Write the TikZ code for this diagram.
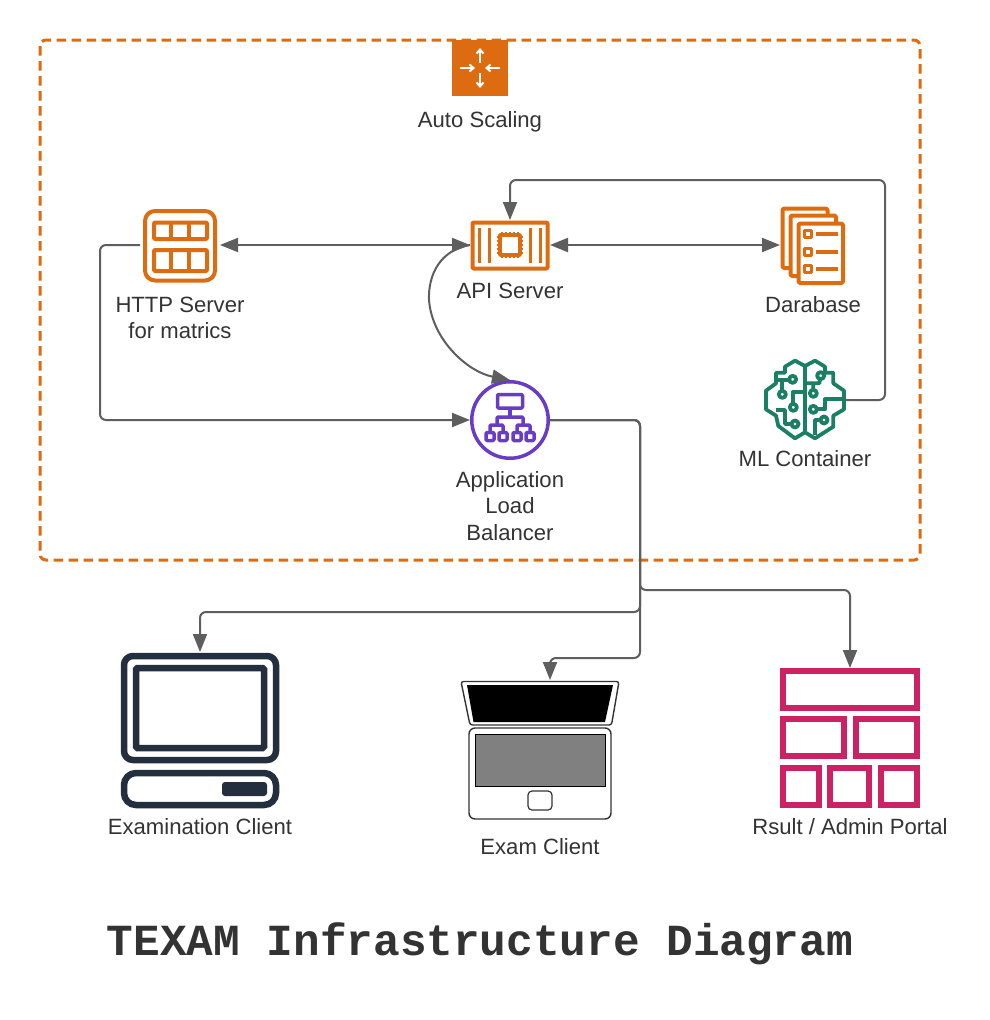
\documentclass[tikz,border=0pt]{standalone}
\usepackage{fontspec}
\setmainfont{Liberation Sans}
\newfontfamily\titlefont{Liberation Mono}
\usetikzlibrary{arrows.meta,positioning}
\definecolor{awsorange}{HTML}{DD6B10}
\definecolor{awspurple}{HTML}{693CC5}
\definecolor{awsgreen}{HTML}{1A7F64}
\definecolor{awsnavy}{HTML}{232F3E}
\definecolor{awspink}{HTML}{CC2264}
\definecolor{linkgray}{HTML}{5E5E5E}
\definecolor{textgray}{HTML}{333333}
\tikzset{
	iconbox/.style={inner sep=0,outer sep=0},
	label/.style={align=center,text=textgray,font=\fontsize{22.1}{26.5}\selectfont,inner sep=0},
	link/.style={draw=linkgray,line width=2,rounded corners=6,-{Triangle[length=18pt,width=14pt]}},
	dualink/.style={draw=linkgray,line width=2,{Triangle[length=18pt,width=14pt]}-{Triangle[length=18pt,width=14pt]}},
	orangeline/.style={draw=awsorange,line width=4,line join=round},
	greenline/.style={draw=awsgreen,line width=3.8,line join=round},
	navyline/.style={draw=awsnavy,line width=6.5},
	pinkbox/.style={draw=awspink,line width=6},
	purpleline/.style={draw=awspurple,line width=3.5,line join=round},
}
\begin{document}
\begin{tikzpicture}[x=1pt,y=-1pt]
	\useasboundingbox (0,0) rectangle (990,1020);
	\fill[white] (0,0) rectangle (990,1020);
	\draw[draw=awsorange,line width=3,rounded corners=6,dash pattern=on 9.5pt off 5.5pt] (40,40) rectangle (920,560);
	%%%%% auto scaling
	\node[iconbox,fill=awsorange,minimum size=56] (scaling) at (480,68) {};
	\draw[white,line width=2,-{Straight Barb[length=4pt,width=7pt]}] (480,63) -- (480,48);
	\draw[white,line width=2,-{Straight Barb[length=4pt,width=7pt]}] (480,73) -- (480,88);
	\draw[white,line width=2,-{Straight Barb[length=4pt,width=7pt]}] (460,68) -- (475,68);
	\draw[white,line width=2,-{Straight Barb[length=4pt,width=7pt]}] (500,68) -- (485,68);
	\node[label] (scalinglabel) at (480,122) {Auto Scaling};
	%%%%% http server
	\node[iconbox,minimum width=80,minimum height=80] (http) at (180,245) {};
	\draw[orangeline,rounded corners=10] (145,211) rectangle (215,280.5);
	\draw[orangeline,rounded corners=1] (154,222.5) rectangle (207,239);
	\draw[orangeline,rounded corners=1] (154,250) rectangle (207,271);
	\draw[orangeline] (171,222) -- (171,239) (189,222) -- (189,239);
	\draw[orangeline] (171,250) -- (171,271) (189,250) -- (189,271);
	\node[label] (httplabel) at (180,318) {HTTP Server\\for matrics};
	%%%%% api server
	\node[iconbox,minimum width=80,minimum height=50] (api) at (510,245) {};
	\draw[orangeline,rounded corners=1] (472.5,222.5) rectangle (547.5,268.5);
	\foreach \x in {479.5,489.5,530.5,540.5}
		\draw[orangeline,line width=3.2] (\x,228) -- (\x,263);
	\draw[orangeline,line width=3.5] (500,235) rectangle (520,255);
	\foreach \p in {-8,-4,0,4,8} {
		\draw[orangeline,line width=2.2] (510+\p,232) -- (510+\p,235);
		\draw[orangeline,line width=2.2] (510+\p,255) -- (510+\p,258);
		\draw[orangeline,line width=2.2] (497,245+\p) -- (500,245+\p);
		\draw[orangeline,line width=2.2] (520,245+\p) -- (523,245+\p);
	}
	\node[label] (apilabel) at (510,291) {API Server};
	%%%%% database
	\node[iconbox,minimum width=65,minimum height=80] (db) at (812.5,245) {};
	\draw[orangeline,rounded corners=1.5] (782.5,208.5) rectangle (827.5,268);
	\draw[orangeline,fill=white,rounded corners=1.5] (790.5,215.5) rectangle (836,276);
	\draw[orangeline,fill=white,rounded corners=1.5] (798.5,223.5) rectangle (843,283);
	\foreach \y in {234,252,269} {
		\draw[orangeline,line width=3.5] (804.5,\y-3.5) rectangle (811.5,\y+3.5);
		\draw[orangeline,line width=3.5] (816,\y) -- (838,\y);
	}
	\node[label] (dblabel) at (813,305) {Darabase};
	%%%%% ml container
	\node[iconbox,minimum size=80] (ml) at (805,400) {};
	\begin{scope}[shift={(750,350)},x=.3333pt,y=-.3333pt]
		\draw[greenline] (165,48) -- (135,32) -- (105,50) -- (105,68) -- (78,68) -- (78,100) -- (48,122) -- (48,178) -- (78,197) -- (85,228) -- (135,265) -- (165,247) -- (195,265) -- (250,230) -- (250,197) -- (282,178) -- (282,122) -- (250,100) -- (250,68) -- (225,68) -- (225,50) -- (195,32) -- cycle;
		\draw[greenline] (165,48) -- (165,247);
		\draw[greenline] (78,90) -- (118,90) (97,90) -- (97,123);
		\draw[greenline] (165,125) -- (130,125) -- (130,162);
		\draw[greenline] (78,180) -- (105,180) -- (105,222) -- (125,222);
		\draw[greenline] (165,100) -- (208,100) -- (210,87) (190,100) -- (190,120);
		\draw[greenline] (200,178) -- (225,178) -- (225,148) -- (282,148);
		\draw[greenline] (212,210) -- (195,210) -- (195,255);
		\foreach \p/\q in {128/88,97/133,130/172,135/222,212/77,190/130,190/178,222/210}
			\draw[greenline] (\p,\q) circle[radius=3.5pt];
	\end{scope}
	\node[label] (mllabel) at (805,459) {ML Container};
	%%%%% load balancer
	\node[iconbox,circle,draw=awspurple,line width=3.5,outer sep=1.75,minimum size=76.5] (alb) at (510,420) {};
	\draw[purpleline,rounded corners=1] (497.5,394.5) rectangle (522.5,408);
	\draw[purpleline] (510,408) -- (510,417);
	\draw[purpleline,rounded corners=1] (497,425) -- (497,417) -- (523,417) -- (523,425);
	\draw[purpleline,rounded corners=1] (490,432) -- (490,425) -- (503,425) -- (503,432);
	\draw[purpleline,rounded corners=1] (517,432) -- (517,425) -- (530,425) -- (530,432);
	\foreach \x in {490,503,517,530}
		\draw[purpleline,fill=white,rounded corners=1] (\x-4,432.5) rectangle (\x+4,440.5);
	\node[label] (alblabel) at (510,506) {Application\\Load\\Balancer};
	%%%%% examination client
	\node[iconbox,minimum width=160,minimum height=156] (desktop) at (200,730) {};
	\draw[navyline,rounded corners=9] (124,656) rectangle (276,760);
	\draw[navyline,rounded corners=1.5] (136,668) rectangle (264,748);
	\draw[navyline,rounded corners=12] (124,773) rectangle (276,805);
	\fill[awsnavy,rounded corners=3] (222,782) rectangle (267,796);
	\node[label] (desktoplabel) at (200,827) {Examination Client};
	%%%%% exam client
	\node[iconbox,minimum width=160,minimum height=140] (laptop) at (540,750) {};
	\coordinate (laptopin) at (550,680);
	\draw[black!80,line width=1.4,rounded corners=2.5] (461,681.5) -- (619,681.5) -- (611.5,725) -- (470,725) -- cycle;
	\fill[black] (467,685) -- (613,685) -- (605,722) -- (473.5,722) -- cycle;
	\draw[black!80,line width=1.4,rounded corners=6] (469,728) rectangle (611,819);
	\draw[black,fill=black!50,line width=1] (475.5,734.5) rectangle (605.5,786.5);
	\draw[black!80,line width=1.2,rounded corners=4] (528,791) rectangle (552,810);
	\node[label] (laptoplabel) at (540,847) {Exam Client};
	%%%%% portal
	\node[iconbox,minimum size=140] (portal) at (850,738) {};
	\draw[pinkbox] (783,671) rectangle (917,708);
	\draw[pinkbox] (783,719) rectangle (844,756);
	\draw[pinkbox] (856,719) rectangle (917,756);
	\draw[pinkbox] (783,768) rectangle (819,805);
	\draw[pinkbox] (830,768) rectangle (869,805);
	\draw[pinkbox] (881,768) rectangle (917,805);
	\node[label] (portallabel) at (850,827) {Rsult / Admin Portal};
	%%%%% connectors
	\draw[dualink] (http.east) -- (api.west);
	\draw[dualink] (api.east) -- (db.west);
	\draw[link] (http.west) -- (100,245) -- (100,420) -- (alb.west);
	\draw[link] (ml.east) -- (885,400) -- (885,180) -- (510,180) -- (api.north);
	\draw[link,rounded corners=0] (api.west) .. controls (440,250) and (428,275) .. (429,300) .. controls (432,340) and (468,372) .. (alb.north);
	\draw[link] (alb.east) -- (640,420) -- (640,590) -- (850,590) -- (portal.north);
	\draw[link] (alb.east) -- (640,420) -- (640,612) -- (200,612) -- (desktop.north);
	\draw[link] (alb.east) -- (640,420) -- (640,658) -- (550,658) -- (laptopin);
	%%%%%
	\node[text=textgray,font=\titlefont\bfseries\fontsize{44.4}{50}\selectfont,inner sep=0] (title) at (480,944) {TEXAM Infrastructure Diagram};
\end{tikzpicture}
\end{document}
